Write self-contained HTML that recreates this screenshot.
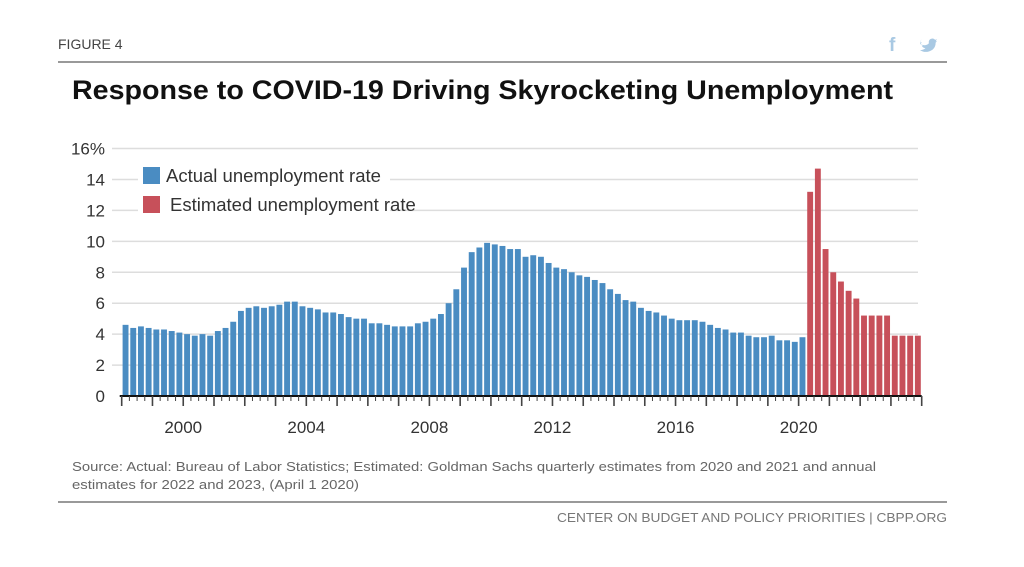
<!DOCTYPE html>
<html><head><meta charset="utf-8"><style>
body{margin:0;background:#fff;width:1024px;height:562px;overflow:hidden;font-family:"Liberation Sans",sans-serif}
</style></head><body>
<svg width="1024" height="562" xmlns="http://www.w3.org/2000/svg">
<text x="58" y="49" font-size="14" fill="#444">FIGURE 4</text>
<text x="889" y="51" font-size="19" font-weight="bold" fill="#a9c9e3">f</text>
<path transform="translate(920,44) scale(0.68) translate(-920,-40)" d="M920 40 q8 4 13 -1 q-1 -6 5 -7 q3 0 4 2 l3 -1 l-2 3 l2 0 l-2 2 q0 10 -10 13 q-7 2 -13 -2 q5 0 8 -3 q-4 0 -5 -3 l2 0 q-4 -1 -4 -5 l2 1 q-3 -3 -1 -6z" fill="#a9c9e3"/>
<line x1="58" y1="62" x2="947" y2="62" stroke="#999" stroke-width="2"/>
<text x="72" y="99" font-size="27" font-weight="bold" fill="#111" textLength="821" lengthAdjust="spacingAndGlyphs">Response to COVID-19 Driving Skyrocketing Unemployment</text>
<g id="grid"></g>
<g id="yl"></g>
<g id="bars"></g>
<g id="axis"></g>
<g>
<rect x="138" y="162" width="252" height="58" fill="#fff"/>
<rect x="143" y="167" width="17" height="17" fill="#4a8cc2"/>
<text x="166" y="182" font-size="18.5" fill="#333">Actual unemployment rate</text>
<rect x="143" y="196" width="17" height="17" fill="#c7505a"/>
<text x="170" y="211" font-size="18.5" fill="#333">Estimated unemployment rate</text>
</g>
<text x="72" y="471" font-size="12.5" fill="#666" textLength="804" lengthAdjust="spacingAndGlyphs">Source: Actual: Bureau of Labor Statistics; Estimated: Goldman Sachs quarterly estimates from 2020 and 2021 and annual</text>
<text x="72" y="489" font-size="12.5" fill="#666" textLength="287" lengthAdjust="spacingAndGlyphs">estimates for 2022 and 2023, (April 1 2020)</text>
<line x1="58" y1="502" x2="947" y2="502" stroke="#999" stroke-width="2"/>
<text x="557" y="522" font-size="12.5" fill="#777" textLength="390" lengthAdjust="spacingAndGlyphs">CENTER ON BUDGET AND POLICY PRIORITIES | CBPP.ORG</text>
</svg>
<script>
const actual=[4.6,4.4,4.5,4.4, 4.3,4.3,4.2,4.1, 4.0,3.9,4.0,3.9, 4.2,4.4,4.8,5.5, 5.7,5.8,5.7,5.8, 5.9,6.1,6.1,5.8, 5.7,5.6,5.4,5.4, 5.3,5.1,5.0,5.0, 4.7,4.7,4.6,4.5, 4.5,4.5,4.7,4.8, 5.0,5.3,6.0,6.9, 8.3,9.3,9.6,9.9, 9.8,9.7,9.5,9.5, 9.0,9.1,9.0,8.6, 8.3,8.2,8.0,7.8, 7.7,7.5,7.3,6.9, 6.6,6.2,6.1,5.7, 5.5,5.4,5.2,5.0, 4.9,4.9,4.9,4.8, 4.6,4.4,4.3,4.1, 4.1,3.9,3.8,3.8, 3.9,3.6,3.6,3.5, 3.8];
const estimated=[13.2,14.7,9.5, 8.0,7.4,6.8,6.3, 5.2,5.2,5.2,5.2, 3.9,3.9,3.9,3.9];
const yTicks=[0,2,4,6,8,10,12,14,16];
const yTickLabels=["0","2","4","6","8","10","12","14","16%"];
const xLabelYears=[2000,2004,2008,2012,2016,2020];
const startYear=1998, endYear=2024;
const NS="http://www.w3.org/2000/svg";
const x0=121.7,x1=921.7,yBase=396,yTop=148.5;
const xs=t=>x0+(t-startYear)/(endYear-startYear)*(x1-x0);
const ys=v=>yBase-v/16*(yBase-yTop);
const qw=(x1-x0)/((endYear-startYear)*4);
function mk(tag,attrs,parent){const e=document.createElementNS(NS,tag);for(const k in attrs)e.setAttribute(k,attrs[k]);parent.appendChild(e);return e;}
const grid=document.getElementById('grid'),yl=document.getElementById('yl'),bars=document.getElementById('bars'),axis=document.getElementById('axis');
yTicks.forEach((v,i)=>{
 if(v>0){const l=mk('line',{x1:112,x2:918,y1:ys(v),y2:ys(v),stroke:'#ddd','stroke-width':1.5},grid);
 
 }
 const t=mk('text',{x:105,y:ys(v)+6,'font-size':17,fill:'#333','text-anchor':'end'},yl);
 t.textContent=yTickLabels[i];
 
 
});
function drawBars(arr,startIdx,color,name){
 arr.forEach((v,i)=>{const idx=startIdx+i;const t=startYear+idx/4;
  const r=mk('rect',{x:xs(t)+0.9,y:ys(v),width:qw-1.8,height:yBase-ys(v),fill:color},bars);
  
  });
}
drawBars(actual,0,'#4a8cc2','actual');
drawBars(estimated,actual.length,'#c7505a','estimated');
const ax=mk('line',{x1:x0-2,x2:x1,y1:yBase,y2:yBase,stroke:'#111','stroke-width':2},axis);


for(let q=0;q<=(endYear-startYear)*4;q++){
 const x=x0+q*qw;const major=q%4===0;
 mk('line',{x1:x,x2:x,y1:yBase,y2:yBase+(major?10:5),stroke:'#444','stroke-width':major?1.6:1},axis);
}
xLabelYears.forEach(y=>{const t=mk('text',{x:xs(y),y:433,'font-size':17,fill:'#333','text-anchor':'middle'},axis);
 t.textContent=y;
 
 });
</script>
</body></html>
